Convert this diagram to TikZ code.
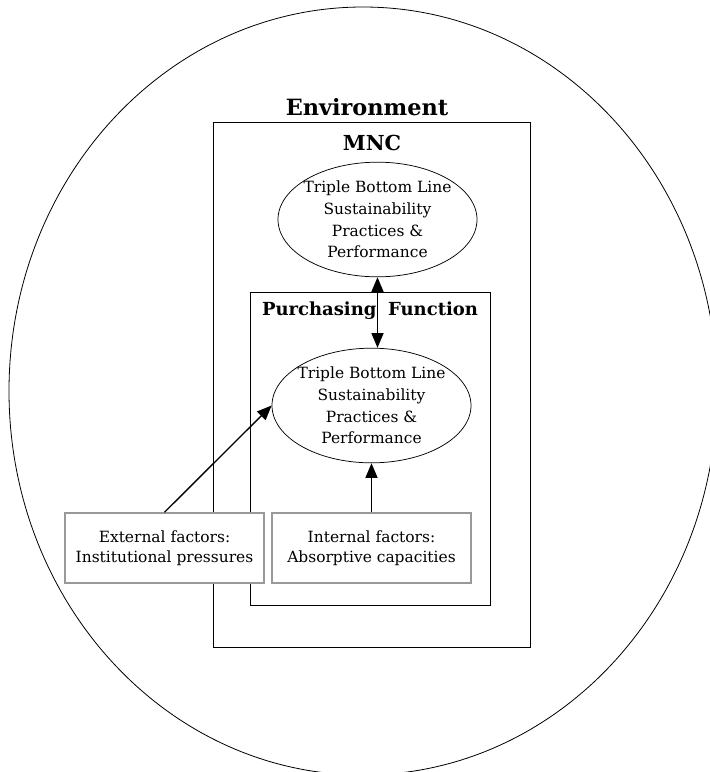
\documentclass[tikz,border=0pt]{standalone}
\usepackage{fontspec}
\setmainfont{DejaVu Serif}
\usetikzlibrary{shapes.geometric,arrows.meta}
\definecolor{boxgray}{HTML}{999999}
\begin{document}
\begin{tikzpicture}[x=0.75pt,y=-0.75pt,
  frame/.style={draw=black,line width=0.7pt},
  title/.style={font=\bfseries,inner sep=0pt},
  goal/.style={ellipse,draw,line width=0.55pt,inner xsep=-8pt,inner ysep=0pt,
    minimum width=149.25pt,minimum height=86pt,align=center,
    font=\fontsize{11.6}{16.3}\selectfont},
  factor/.style={rectangle,draw=boxgray,line width=1.1pt,fill=white,
    minimum width=149.25pt,minimum height=52.5pt,inner sep=0pt,align=center,
    font=\fontsize{11.6}{15}\selectfont},
  link/.style={line width=1pt,-{Triangle[length=11pt,width=9pt]}},
  biglink/.style={line width=1pt,{Triangle[length=11pt,width=9pt]}-{Triangle[length=11pt,width=9pt]}}]
\useasboundingbox (0,0) rectangle (710,772);
\clip (0,0) rectangle (710,772);

% surrounding environment
\draw[line width=0.6pt] (363,391) ellipse [x radius=354,y radius=384];
\node[title,font=\fontsize{16.8}{19}\selectfont\bfseries] (env) at (367,107) {Environment};

% firm and purchasing function
\draw[frame] (213,122) rectangle (530,647);
\node[title,font=\fontsize{15.5}{18}\selectfont\bfseries] (mnc) at (372,143) {MNC};
\draw[frame] (250,292) rectangle (490,605);
\node[title,font=\fontsize{13.5}{16}\selectfont\bfseries] (pf) at (370,311) {Purchasing\hspace{0.3em} Function};

% sustainability outcomes
\node[goal] (tbl1) at (377.5,219.5) {Triple Bottom Line\\Sustainability\\Practices \&\\Performance};
\node[goal] (tbl2) at (371.5,405.5) {Triple Bottom Line\\Sustainability\\Practices \&\\Performance};

% factors
\node[factor] (ext) at (164.5,548) {External factors:\\Institutional pressures};
\node[factor] (int) at (371.5,548) {Internal factors:\\Absorptive capacities};

% links
\draw[biglink] (tbl1.south) -- (tbl1.south |- tbl2.north);
\draw[link] (int) -- (tbl2);
\draw[link] (ext.north) -- (tbl2.west);
\end{tikzpicture}
\end{document}
